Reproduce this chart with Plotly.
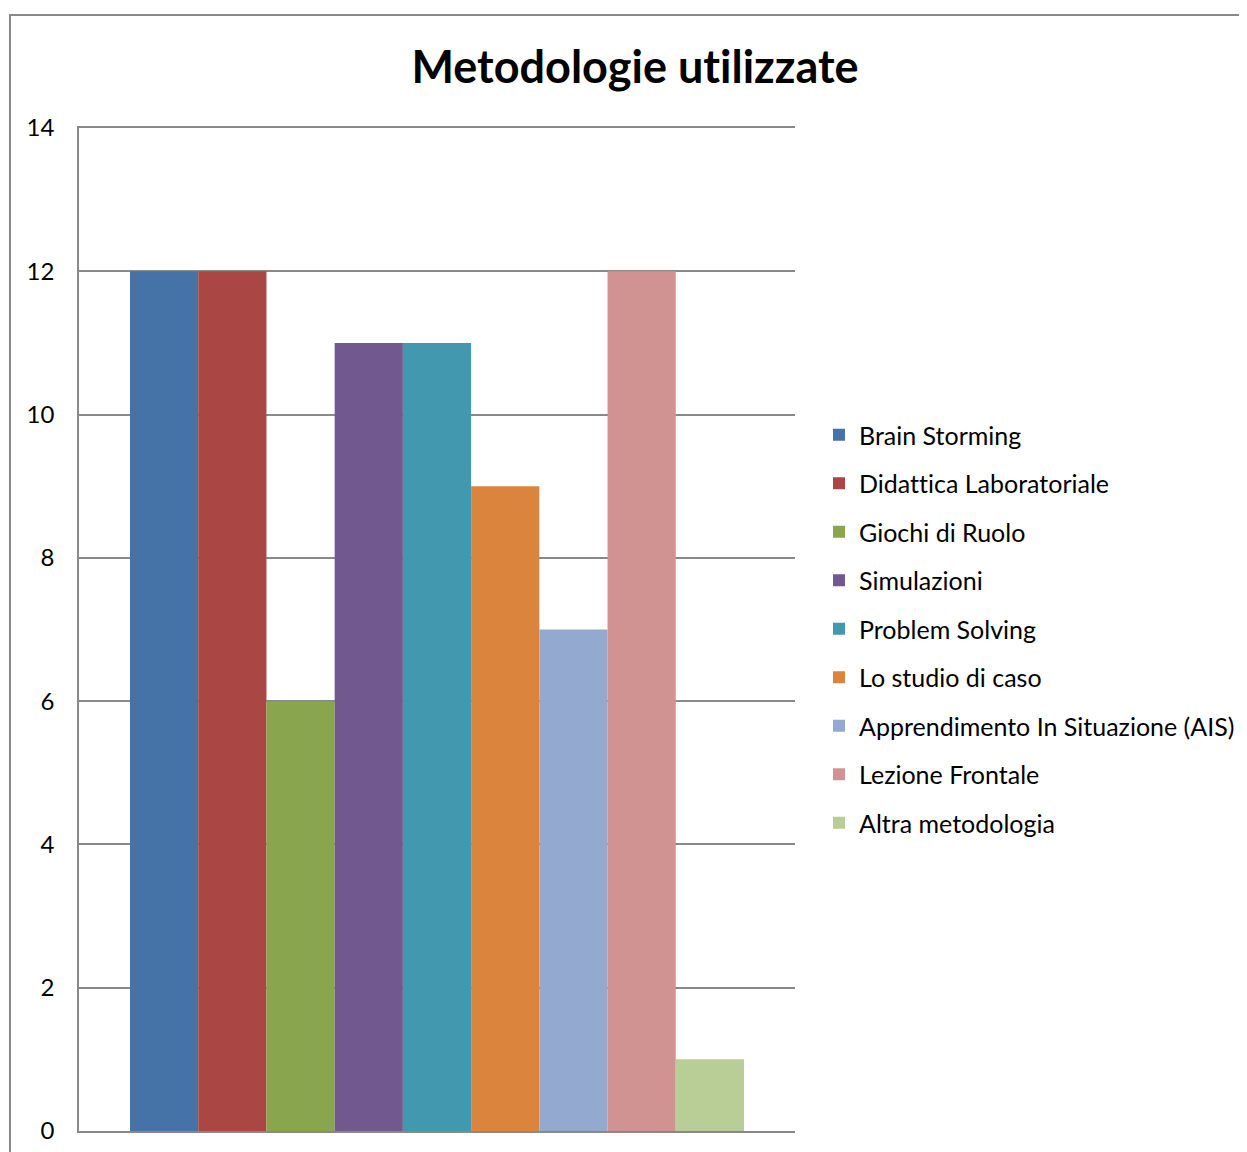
import plotly.graph_objects as go

categories = [""]
series_names = [
    "Brain Storming",
    "Didattica Laboratoriale",
    "Giochi di Ruolo",
    "Simulazioni",
    "Problem Solving",
    "Lo studio di caso",
    "Apprendimento In Situazione (AIS)",
    "Lezione Frontale",
    "Altra metodologia",
]
series_values = [12, 12, 6, 11, 11, 9, 7, 12, 1]
series_colors = [
    "#4572A7", "#AA4643", "#89A54E", "#71588F", "#4198AF",
    "#DB843D", "#93A9CF", "#D19392", "#B9CD96",
]
y_ticks = [0, 2, 4, 6, 8, 10, 12, 14]

FONT = "Lato, Open Sans, sans-serif"

fig = go.Figure()
for i, (name, val, col) in enumerate(zip(series_names, series_values, series_colors)):
    fig.add_trace(go.Bar(
        x=categories, y=[val], name=name,
        marker=dict(color=col, line=dict(width=0)),
        legendgroup=f"g{i}",
    ))

# page has an 8px body margin at top/left; figure reaches the window's right/bottom edges
OFF = 8
W, H = 1247 - OFF, 1152 - OFF
L, R, T, B = 79 - OFF, 795 - OFF, 128 - OFF, 1131 - OFF
fig.update_layout(
    width=W, height=H,
    margin=dict(l=L, r=W - R, t=T, b=H - B, pad=0, autoexpand=False),
    paper_bgcolor="white", plot_bgcolor="white",
    barmode="group", bargap=0.1425, bargroupgap=0,
    font=dict(family=FONT, color="black"),
    title=dict(
        text="<b>Metodologie utilizzate</b>",
        font=dict(family=FONT, size=45, color="black"),
        x=(635 - OFF) / W, xref="container", xanchor="center",
        y=1 - (67 - OFF) / H, yref="container", yanchor="middle",
    ),
    legend=dict(
        x=(819 - OFF) / W, xref="container", xanchor="left",
        y=1 - (629 - OFF) / H, yref="container", yanchor="middle",
        font=dict(family=FONT, size=25, color="black"),
        traceorder="grouped", tracegroupgap=13,
        bgcolor="rgba(0,0,0,0)",
    ),
    showlegend=True,
)
fig.update_xaxes(
    showticklabels=False, showgrid=False,
    showline=True, linecolor="#898989", linewidth=1.5, mirror=True,
    range=[-0.5, 0.5], ticks="",
)
fig.update_yaxes(
    range=[0, 14], tickvals=y_ticks, ticktext=[str(v) for v in y_ticks],
    showgrid=True, gridcolor="#898989", gridwidth=1.5,
    showline=True, linecolor="#898989", linewidth=1.5,
    zeroline=False, ticks="", ticklabelstandoff=18,
    ticklabeloverflow="allow", automargin=False,
    tickfont=dict(family=FONT, size=24, color="black"),
)
# chart outer border
fig.add_shape(
    type="rect", xref="paper", yref="paper",
    x0=(10 - 79) / 716, x1=1.8,
    y0=-0.2, y1=(1131 - 15) / 1003,
    line=dict(color="#898989", width=2), fillcolor="rgba(0,0,0,0)",
    layer="below",
)

post = (
    "var s=document.createElement('style');"
    "s.textContent='svg text{font-variant-ligatures:none !important;"
    "font-feature-settings:\"liga\" 0, \"clig\" 0 !important;}';"
    "document.head.appendChild(s);"
)
fig.write_html("out.html", post_script=post, config={"displayModeBar": False})
